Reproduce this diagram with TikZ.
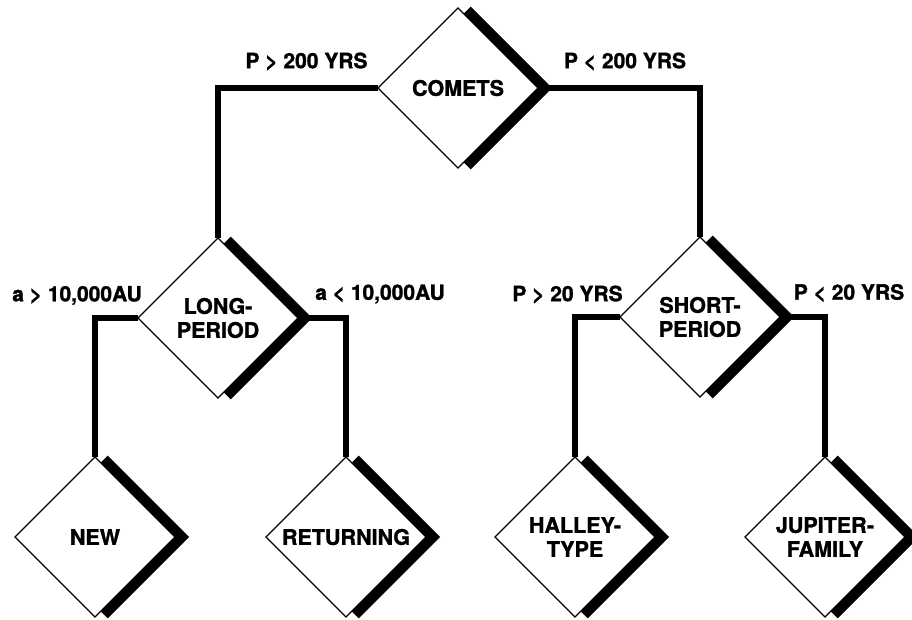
\documentclass[tikz,border=0pt]{standalone}
\usepackage{fontspec}
\setmainfont{TeX Gyre Heros}[BoldFeatures={FakeBold=1.3}]
\usetikzlibrary{shapes.geometric,calc}

\tikzset{
  kind/.style={shape=diamond, draw, fill=white, line width=1.1pt,
    minimum width=160pt, minimum height=160pt, aspect=1,
    inner sep=0pt, outer sep=0pt, align=center,
    font=\bfseries\fontsize{21.5}{24}\selectfont},
  branch/.style={line width=5.5pt, line join=miter, line cap=butt},
  shadowband/.style={line width=10pt, line join=miter, line cap=butt},
  cond/.style={font=\bfseries\fontsize{21}{24}\selectfont, inner sep=0pt}
}

\begin{document}
\begin{tikzpicture}[x=1pt, y=-1pt]
  \useasboundingbox (0,0) rectangle (912,619);

  % classes
  \node[kind] (comets)   at (458,88)  {COMETS};
  \node[kind] (long)     at (218,318) {LONG-\\PERIOD};
  \node[kind] (short)    at (700,317) {SHORT-\\PERIOD};
  \node[kind] (new)      at (95,537)  {NEW};
  \node[kind] (return)   at (346,537) {RETURNING};
  \node[kind] (halley)   at (575,537) {HALLEY-\\TYPE};
  \node[kind] (jupiter)  at (825,537) {JUPITER-\\FAMILY};

  % branches
  \draw[branch] (comets.west) -| (long.north);
  \draw[branch] (comets.east) -| (short.north);
  \draw[branch] (long.west)   -| (new.north);
  \draw[branch] (long.east)   -| (return.north);
  \draw[branch] (short.west)  -| (halley.north);
  \draw[branch] (short.east)  -| (jupiter.north);

  % heavy band along the right-hand edges of every diamond
  \foreach \n in {comets,long,short,new,return,halley,jupiter}{
    \draw[shadowband] ($(\n.north)+(9.19,2.12)$) -- ($(\n.east)+(7.07,0)$)
      -- ($(\n.south)+(9.19,-2.12)$);
  }

  % branch conditions
  \node[cond] (c1) at (306.5,61.5) {P > 200 YRS};
  \node[cond] (c2) at (625,61.5)   {P < 200 YRS};
  \node[cond] (c3) at (77,295.5)   {a > 10,000AU};
  \node[cond] (c4) at (380,294)    {a < 10,000AU};
  \node[cond] (c5) at (567.5,294.5){P > 20 YRS};
  \node[cond] (c6) at (849,293)    {P < 20 YRS};
\end{tikzpicture}
\end{document}
